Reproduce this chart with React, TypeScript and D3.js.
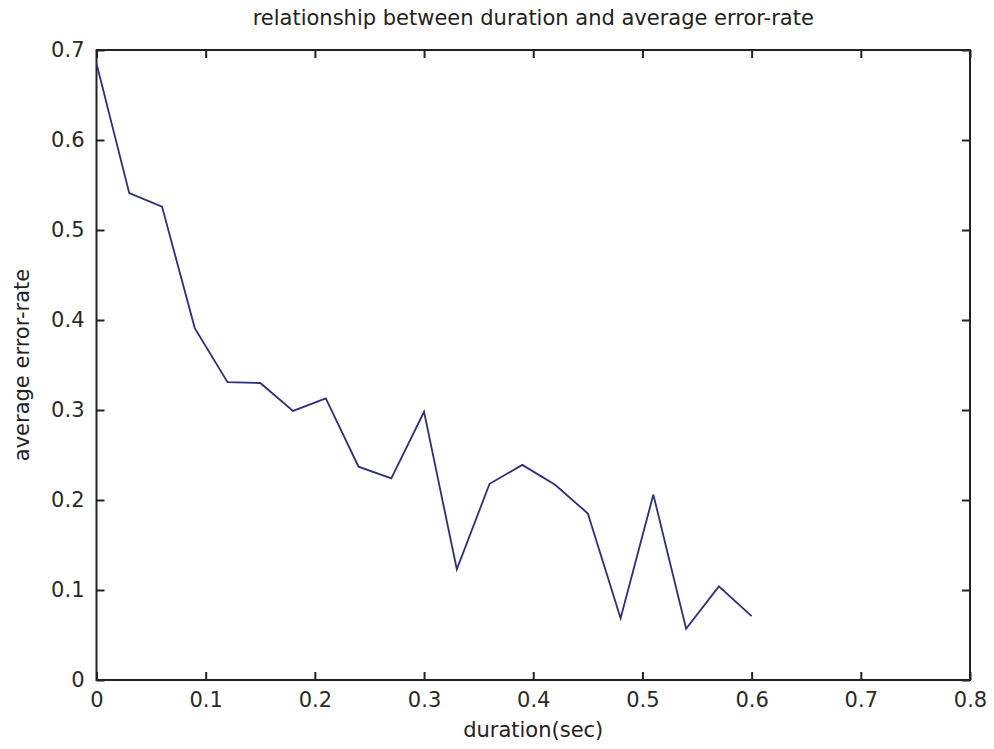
import React, { useEffect, useRef } from "react";
import * as d3 from "d3";

// duration (sec) sampled every 0.03
const durations = [
  0, 0.03, 0.06, 0.09, 0.12, 0.15, 0.18, 0.21, 0.24, 0.27, 0.3, 0.33, 0.36,
  0.39, 0.42, 0.45, 0.48, 0.51, 0.54, 0.57, 0.6,
];
const errorRates = [
  0.685, 0.541, 0.526, 0.391, 0.331, 0.33, 0.299, 0.313, 0.237, 0.224, 0.298,
  0.123, 0.218, 0.239, 0.217, 0.185, 0.0685, 0.206, 0.057, 0.104, 0.071,
];
const xTicks = [0, 0.1, 0.2, 0.3, 0.4, 0.5, 0.6, 0.7, 0.8];
const yTicks = [0, 0.1, 0.2, 0.3, 0.4, 0.5, 0.6, 0.7];

const title = "relationship between duration and average error-rate";
const xLabel = "duration(sec)";
const yLabel = "average error-rate";

const App = () => {
  const ref = useRef<SVGSVGElement>(null);

  useEffect(() => {
    const width = 994,
      height = 749;
    const left = 96.5,
      right = 970,
      top = 50,
      bottom = 680;
    const font = "'DejaVu Sans', sans-serif";

    const svg = d3.select(ref.current);
    svg.selectAll("*").remove();
    svg.attr("width", width).attr("height", height);

    const x = d3.scaleLinear().domain([0, 0.8]).range([left, right]);
    const y = d3.scaleLinear().domain([0, 0.7]).range([bottom, top]);

    const fmt = (d: any) => (d === 0 ? "0" : d3.format(".1f")(d));
    const tick = 8;

    // inward ticks on all four sides, matlab style
    const styleAxis = (g: any) => {
      g.select(".domain").remove();
      g.selectAll("line").attr("stroke", "#222").attr("stroke-width", 2);
      g.selectAll("text")
        .attr("font-family", font)
        .attr("font-size", 21)
        .attr("fill", "#2a2a2a");
    };

    svg
      .append("g")
      .attr("transform", `translate(0,${bottom})`)
      .call(
        d3.axisBottom(x).tickValues(xTicks).tickFormat(fmt).tickSizeInner(-tick).tickPadding(12)
      )
      .call(styleAxis);
    svg
      .append("g")
      .attr("transform", `translate(0,${top})`)
      .call(d3.axisTop(x).tickValues(xTicks).tickFormat(() => "").tickSizeInner(-tick))
      .call(styleAxis);
    svg
      .append("g")
      .attr("transform", `translate(${left},0)`)
      .call(
        d3.axisLeft(y).tickValues(yTicks).tickFormat(fmt).tickSizeInner(-tick).tickPadding(12)
      )
      .call(styleAxis);
    svg
      .append("g")
      .attr("transform", `translate(${right},0)`)
      .call(d3.axisRight(y).tickValues(yTicks).tickFormat(() => "").tickSizeInner(-tick))
      .call(styleAxis);

    // box
    svg
      .append("rect")
      .attr("x", left)
      .attr("y", top)
      .attr("width", right - left)
      .attr("height", bottom - top)
      .attr("fill", "none")
      .attr("stroke", "#222")
      .attr("stroke-width", 2);

    const line = d3
      .line<number>()
      .x((d, i) => x(durations[i]))
      .y((d) => y(d));

    svg
      .append("path")
      .datum(errorRates)
      .attr("d", line)
      .attr("fill", "none")
      .attr("stroke", "#2e2e80")
      .attr("stroke-width", 1.8);

    svg
      .append("text")
      .attr("x", (left + right) / 2)
      .attr("y", 25)
      .attr("text-anchor", "middle")
      .attr("font-family", font)
      .attr("font-size", 21)
      .attr("fill", "#222")
      .text(title);

    svg
      .append("text")
      .attr("x", (left + right) / 2)
      .attr("y", 737)
      .attr("text-anchor", "middle")
      .attr("font-family", font)
      .attr("font-size", 21)
      .attr("fill", "#222")
      .text(xLabel);

    svg
      .append("text")
      .attr("transform", `translate(29,${(top + bottom) / 2}) rotate(-90)`)
      .attr("text-anchor", "middle")
      .attr("font-family", font)
      .attr("font-size", 21)
      .attr("fill", "#222")
      .text(yLabel);
  }, []);

  return (
    <div style={{ position: "absolute", left: 0, top: 0 }}>
      <svg ref={ref} style={{ display: "block", background: "#fff" }}></svg>
    </div>
  );
};

export default App;
